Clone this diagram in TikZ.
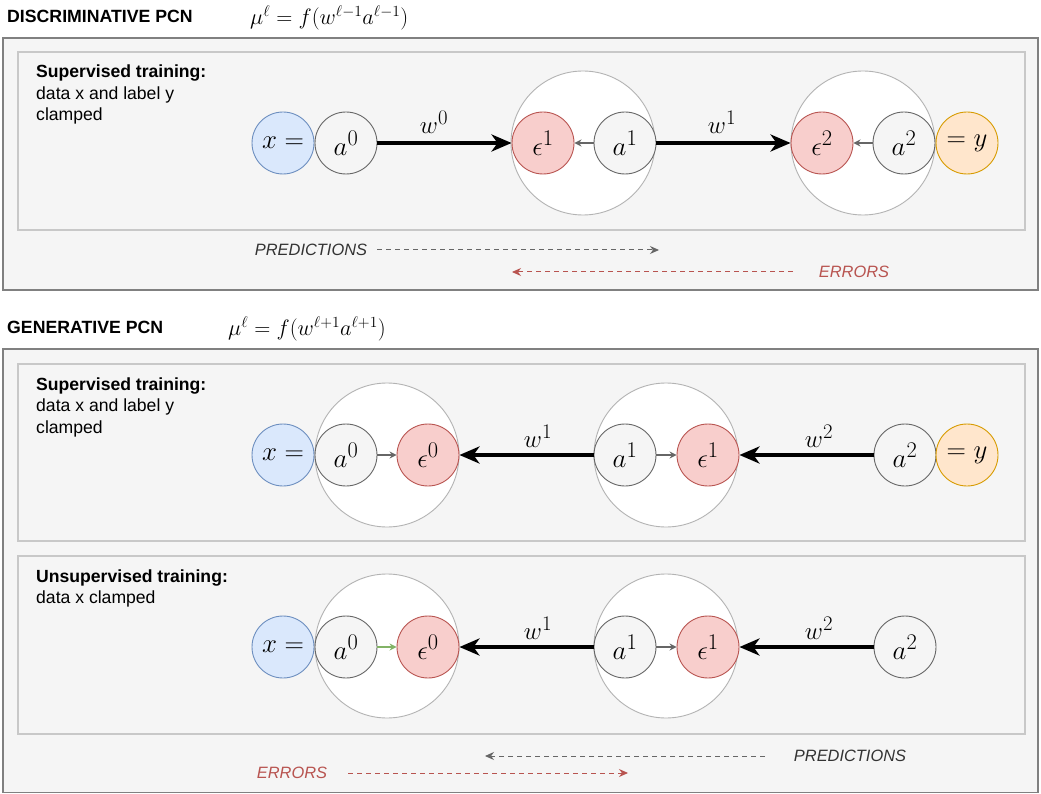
\documentclass[tikz,border=0pt]{standalone}
\usepackage{graphicx}
\usepackage{fontspec}
\setmainfont{Liberation Sans}
\usetikzlibrary{arrows.meta}
\definecolor{grayS}{HTML}{666666}
\definecolor{grayF}{HTML}{F5F5F5}
\definecolor{redS}{HTML}{B85450}
\definecolor{redF}{HTML}{F8CECC}
\definecolor{blueS}{HTML}{6C8EBF}
\definecolor{blueF}{HTML}{DAE8FC}
\definecolor{orangeS}{HTML}{D79B00}
\definecolor{orangeF}{HTML}{FFE6CC}
\definecolor{groupS}{HTML}{B3B3B3}
\definecolor{innerS}{HTML}{C8C8C8}
\definecolor{outerS}{HTML}{808080}
\definecolor{greenS}{HTML}{82B366}
\definecolor{textD}{HTML}{333333}
\newcommand{\nm}[1]{\scalebox{1.08}{$#1$}}
\newcommand{\fm}[1]{\scalebox{1.075}{$#1$}}
\begin{document}
\begin{tikzpicture}[x=1pt,y=-1pt,
  unit/.style={circle, minimum size=62pt, inner sep=0pt, line width=0.9pt, font=\fontsize{24.88}{27}\selectfont},
  actnode/.style={unit, draw=grayS, fill=grayF},
  errnode/.style={unit, draw=redS, fill=redF},
  xnode/.style={unit, draw=blueS, fill=blueF},
  ynode/.style={unit, draw=orangeS, fill=orangeF},
  groupc/.style={circle, minimum size=144pt, inner sep=0pt, draw=groupS, fill=white, line width=0.9pt},
  warrow/.style={line width=4.2pt, -{Stealth[length=20pt,width=17pt,inset=6pt]}},
  smallarrow/.style={draw=grayS, line width=1.2pt, -{Stealth[length=7pt,width=7pt]}},
  greenarrow/.style={draw=greenS, line width=1.2pt, -{Stealth[length=7pt,width=7pt]}},
  wlabel/.style={font=\fontsize{24.88}{27}\selectfont},
  outerbox/.style={draw=outerS, fill=grayF, line width=1.3pt},
  innerbox/.style={draw=innerS, fill=grayF, line width=1.3pt},
  title/.style={anchor=west, inner sep=0pt, font=\fontsize{17.7}{20}\selectfont\bfseries},
  formula/.style={anchor=west, inner sep=0pt, font=\fontsize{20.74}{23}\selectfont},
  boldline/.style={anchor=base west, inner sep=0pt, font=\fontsize{17.6}{20}\selectfont\bfseries},
  plainline/.style={anchor=base west, inner sep=0pt, font=\fontsize{17.6}{20}\selectfont},
  predtext/.style={inner sep=0pt, font=\fontsize{16.4}{19}\selectfont\itshape, text=textD},
  errtext/.style={inner sep=0pt, font=\fontsize{16.4}{19}\selectfont\itshape, text=redS},
  predarrow/.style={draw=grayS, line width=1pt, dash pattern=on 5pt off 4pt, -{Stealth[length=9pt,width=8pt]}},
  errarrow/.style={draw=redS, line width=1pt, dash pattern=on 5pt off 4pt, -{Stealth[length=9pt,width=8pt]}}
]
\useasboundingbox (0,0) rectangle (1041,794);

% ---------------- DISCRIMINATIVE ----------------
\node[title] (t1) at (7,16) {DISCRIMINATIVE PCN};
\node[formula] (f1) at (250,17.5) {\fm{\mu^\ell = f(w^{\ell-1}a^{\ell-1})}};
\draw[outerbox] (3,38) rectangle (1038,290);
\draw[innerbox] (18,52) rectangle (1025,230);
\node[boldline] (s1a) at (36,78) {Supervised training:};
\node[plainline] (s1b) at (36,99.5) {data x and label y};
\node[plainline] (s1c) at (36,121) {clamped};

\node[groupc] (g11) at (583,143) {};
\node[groupc] (g12) at (863,143) {};
\node[xnode] (dx) at (283,143) {\nm{x=}};
\node[actnode] (da0) at (346,143) {\nm{a^0}};
\node[errnode] (de1) at (543,143) {\nm{\epsilon^1}};
\node[actnode] (da1) at (625,143) {\nm{a^1}};
\node[errnode] (de2) at (822,143) {\nm{\epsilon^2}};
\node[actnode] (da2) at (904,143) {\nm{a^2}};
\node[ynode] (dy) at (967,143) {\nm{=y}};
\draw[warrow] (da0) -- (de1);
\draw[warrow] (da1) -- (de2);
\draw[smallarrow] (da1) -- (de1);
\draw[smallarrow] (da2) -- (de2);
\node[wlabel] (dw0) at (434,122) {$w^0$};
\node[wlabel] (dw1) at (722,122) {$w^1$};

\node[predtext] (dp) at (311,250) {PREDICTIONS};
\coordinate (dps) at (377,250);
\coordinate (dpe) at (659,250);
\draw[predarrow] (dps) -- (dpe);
\node[errtext] (de) at (854,272) {ERRORS};
\coordinate (des) at (793,272);
\coordinate (dee) at (512,272);
\draw[errarrow] (des) -- (dee);

% ---------------- GENERATIVE ----------------
\node[title] (t2) at (7,327) {GENERATIVE PCN};
\node[formula] (f2) at (228,328.5) {\fm{\mu^\ell = f(w^{\ell+1}a^{\ell+1})}};
\draw[outerbox] (3,349) rectangle (1038,792.5);

% supervised
\draw[innerbox] (18,364) rectangle (1025,541);
\node[boldline] (s2a) at (36,390) {Supervised training:};
\node[plainline] (s2b) at (36,411.5) {data x and label y};
\node[plainline] (s2c) at (36,433) {clamped};

\node[groupc] (g21) at (387,455) {};
\node[groupc] (g22) at (666,455) {};
\node[xnode] (sx) at (283,455) {\nm{x=}};
\node[actnode] (sa0) at (346,455) {\nm{a^0}};
\node[errnode] (se0) at (428,455) {\nm{\epsilon^0}};
\node[actnode] (sa1) at (625,455) {\nm{a^1}};
\node[errnode] (se1) at (708,455) {\nm{\epsilon^1}};
\node[actnode] (sa2) at (905,455) {\nm{a^2}};
\node[ynode] (sy) at (967,455) {\nm{=y}};
\draw[smallarrow] (sa0) -- (se0);
\draw[smallarrow] (sa1) -- (se1);
\draw[warrow] (sa1) -- (se0);
\draw[warrow] (sa2) -- (se1);
\node[wlabel] (sw1) at (538,436) {$w^1$};
\node[wlabel] (sw2) at (819,436) {$w^2$};

% unsupervised
\draw[innerbox] (18,556) rectangle (1025,734);
\node[boldline] (s3a) at (36,582) {Unsupervised training:};
\node[plainline] (s3b) at (36,603.5) {data x clamped};

\node[groupc] (g31) at (387,646) {};
\node[groupc] (g32) at (666,646) {};
\node[xnode] (ux) at (283,647) {\nm{x=}};
\node[actnode] (ua0) at (346,647) {\nm{a^0}};
\node[errnode] (ue0) at (428,647) {\nm{\epsilon^0}};
\node[actnode] (ua1) at (625,647) {\nm{a^1}};
\node[errnode] (ue1) at (708,647) {\nm{\epsilon^1}};
\node[actnode] (ua2) at (905,647) {\nm{a^2}};
\draw[greenarrow] (ua0) -- (ue0);
\draw[smallarrow] (ua1) -- (ue1);
\draw[warrow] (ua1) -- (ue0);
\draw[warrow] (ua2) -- (ue1);
\node[wlabel] (uw1) at (538,628) {$w^1$};
\node[wlabel] (uw2) at (819,628) {$w^2$};

\node[predtext] (gp) at (850,756) {PREDICTIONS};
\coordinate (gps) at (765,756);
\coordinate (gpe) at (485,756);
\draw[predarrow] (gps) -- (gpe);
\node[errtext] (ge) at (292,773) {ERRORS};
\coordinate (ges) at (348,773);
\coordinate (gee) at (628,773);
\draw[errarrow] (ges) -- (gee);
\end{tikzpicture}
\end{document}
